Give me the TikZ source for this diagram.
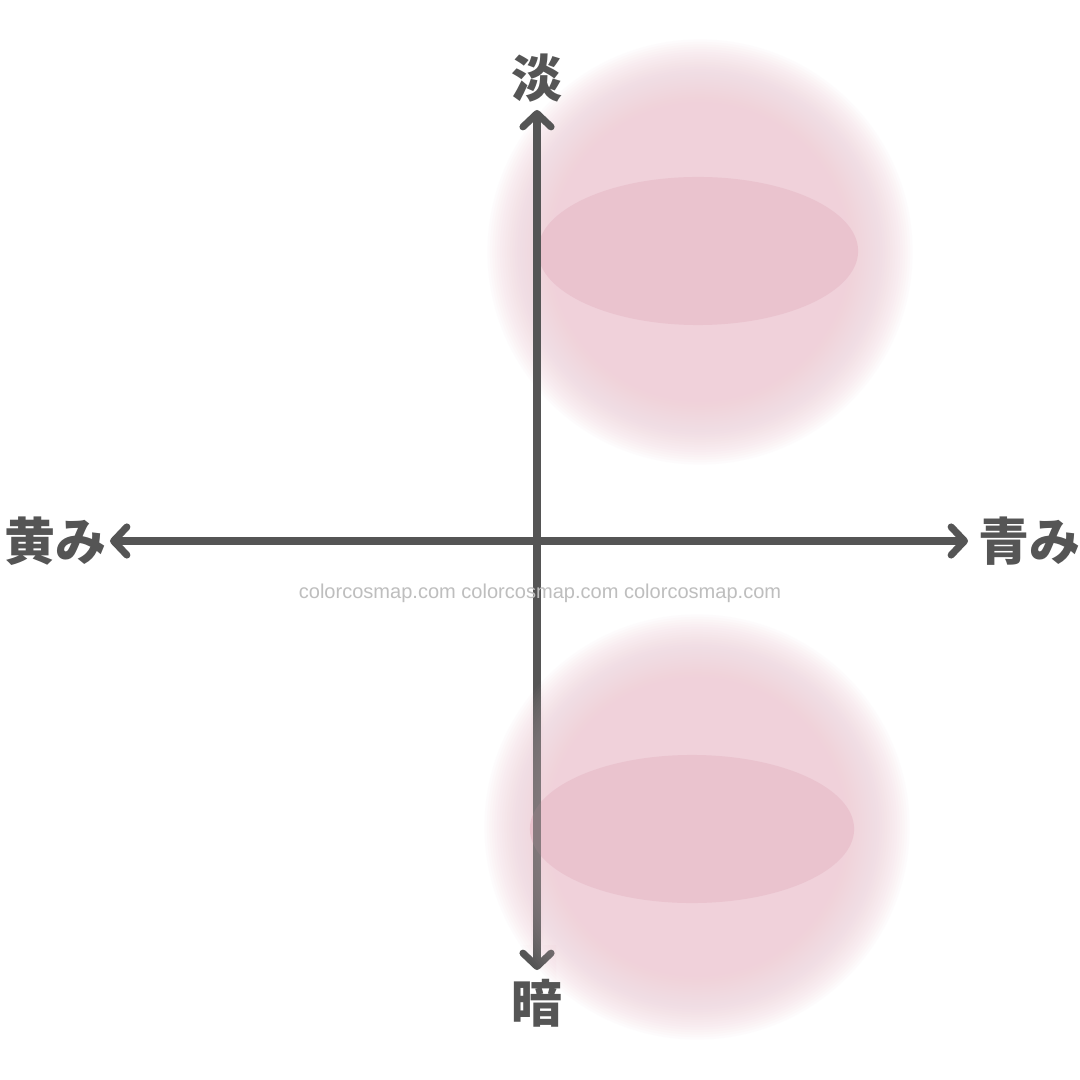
\documentclass[tikz,border=0pt]{standalone}
\usepackage{fontspec}
\newfontfamily\jpfont{Noto Sans CJK JP}
\newfontfamily\markfont{Liberation Sans}
\usetikzlibrary{arrows.meta}

\definecolor{axisgray}{RGB}{85,85,85}
\definecolor{glowpink}{RGB}{240,209,218}
\definecolor{ovalpink}{RGB}{234,195,206}
\definecolor{markgray}{RGB}{190,190,190}

\begin{document}
\begin{tikzpicture}[x=0.01cm, y=-0.01cm,
  axis/.style={draw=axisgray, line width=2pt, line cap=round,
    {Straight Barb[length=3.8pt, width=8pt, round]}-{Straight Barb[length=3.8pt, width=8pt, round]}},
  pole/.style={text=axisgray, font=\jpfont\bfseries\fontsize{14.5pt}{16pt}\selectfont, inner sep=0pt},
  glow/.style={fill=glowpink, fill opacity=0.07}]
  \useasboundingbox[fill=white] (0,0) rectangle (1080,1080);
  \def\lowglow{% soft disc and oval of the lower area
    \foreach \r in {0,...,29}
      \fill[glow] (697,827) circle ({1.40cm+\r*0.025cm});
    \fill[ovalpink] (692,829) ellipse (1.62cm and 0.74cm);}

  % --- upper area: soft rim from stacked discs
  \foreach \r in {0,...,29}
    \fill[glow] (700,252) circle ({1.40cm+\r*0.025cm});
  \fill[ovalpink] (698,251) ellipse (1.6cm and 0.74cm);

  % --- lower area
  \lowglow

  % --- axes
  \coordinate (top) at (537,110);
  \coordinate (bottom) at (537,970);
  \coordinate (left) at (110,541);
  \coordinate (right) at (968,541);
  \draw[axis] (bottom) -- (top);
  \draw[axis] (left) -- (right);

  % --- lower area once more, faint, over the axis
  \begin{scope}[transparency group, opacity=0.35]
    \clip (531,600) rectangle (543,962) (518,945) rectangle (556,980);
    \lowglow
  \end{scope}

  % --- watermark
  \node[font=\markfont\fontsize{5.7pt}{7pt}\selectfont, text=markgray, inner sep=0pt] (mark) at (540,593)
    {colorcosmap.com colorcosmap.com colorcosmap.com};

  % --- pole labels
  \node[pole] (light) at (537,78) {淡};
  \node[pole] (dark) at (537,1003) {暗};
  \node[pole] (yellow) at (55,541) {黄み};
  \node[pole] (blue) at (1029,541) {青み};
\end{tikzpicture}
\end{document}
